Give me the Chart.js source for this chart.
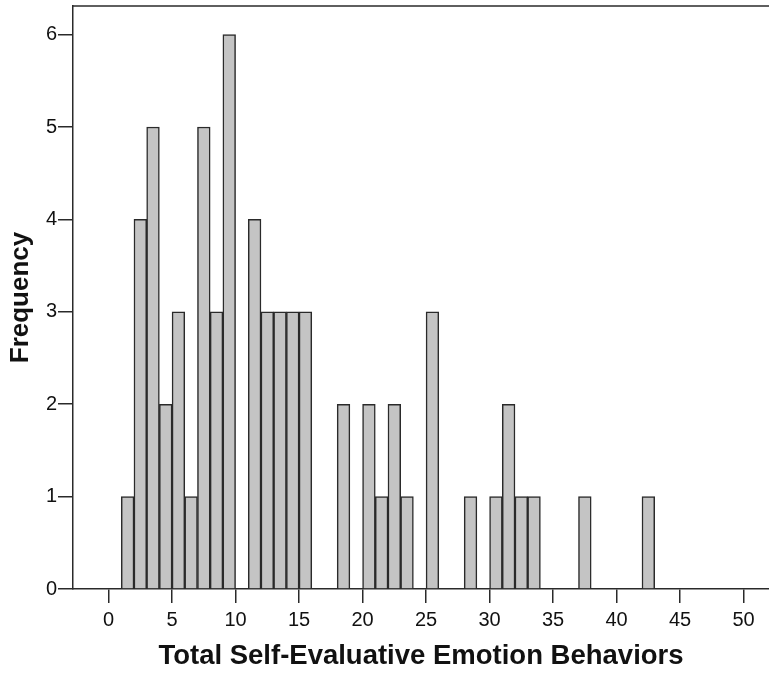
<!DOCTYPE html>
<html>
<head>
<meta charset="utf-8">
<script src="https://cdn.jsdelivr.net/npm/chart.js@4"></script>
<style>
  html, body { margin: 0; padding: 0; background: #fff; }
  canvas { display: block; }
</style>
</head>
<body>
<canvas id="histo" width="769" height="677"></canvas>
<script>
// lower edge of each non-empty bin (bins are 1 unit wide)
const binStarts = [1, 2, 3, 4, 5, 6, 7, 8, 9, 11, 12, 13, 14, 15, 18, 20, 21, 22, 23, 25, 28, 30, 31, 32, 33, 37, 42];
const frequencies = [1, 4, 5, 2, 3, 1, 5, 3, 6, 4, 3, 3, 3, 3, 2, 2, 1, 2, 1, 3, 1, 1, 2, 1, 1, 1, 1];
const xTicks = [0, 5, 10, 15, 20, 25, 30, 35, 40, 45, 50];
const yTicks = [0, 1, 2, 3, 4, 5, 6];

const ink = '#2a2a2a';
const fontFam = "Arial, 'Liberation Sans', sans-serif";

// top frame line of the plot box
const topLine = {
  id: 'topLine',
  afterDraw(chart) {
    const { ctx, chartArea } = chart;
    ctx.save();
    ctx.strokeStyle = ink;
    ctx.lineWidth = 1.5;
    ctx.beginPath();
    ctx.moveTo(chartArea.left, chartArea.top);
    ctx.lineTo(chartArea.right, chartArea.top);
    ctx.stroke();
    ctx.restore();
  }
};

new Chart(document.getElementById('histo'), {
  type: 'bar',
  data: {
    datasets: [{
      data: binStarts.map((b, i) => ({ x: b + 0.5, y: frequencies[i] })),
      backgroundColor: '#c4c4c4',
      borderColor: ink,
      borderWidth: 1.5,
      barPercentage: 1,
      categoryPercentage: 1,
      grouped: false
    }]
  },
  options: {
    responsive: false,
    animation: false,
    events: [],
    layout: { padding: { top: 6, right: 0, left: 0, bottom: 0 } },
    plugins: { legend: { display: false }, tooltip: { enabled: false } },
    scales: {
      x: {
        type: 'linear',
        min: -2.8,
        max: 52,
        offset: false,
        afterFit: s => { s.height = 88; },
        afterBuildTicks: s => { s.ticks = xTicks.map(v => ({ value: v })); },
        grid: { offset: false, drawOnChartArea: false, drawTicks: true, tickLength: 14, color: ink, lineWidth: 1.5 },
        border: { display: true, color: ink, width: 1.5 },
        ticks: { includeBounds: false, padding: 5, color: '#111', font: { family: fontFam, size: 20 }, maxRotation: 0 },
        title: {
          display: true,
          text: 'Total Self-Evaluative Emotion Behaviors',
          color: '#111',
          padding: { top: 4, bottom: 4 },
          font: { family: fontFam, size: 27.5, weight: 'bold' }
        }
      },
      y: {
        min: 0,
        max: 6.31,
        afterFit: s => { s.width = 73; s.paddingTop = 0; s.paddingBottom = 0; },
        afterBuildTicks: s => { s.ticks = yTicks.map(v => ({ value: v })); },
        grid: { drawOnChartArea: false, drawTicks: true, tickLength: 15, color: ink, lineWidth: 1.5 },
        border: { display: true, color: ink, width: 1.5 },
        ticks: { includeBounds: false, padding: 1, color: '#111', font: { family: fontFam, size: 20 } },
        title: {
          display: true,
          text: 'Frequency',
          color: '#111',
          padding: { top: 5, bottom: 4 },
          font: { family: fontFam, size: 26, weight: 'bold' }
        }
      }
    }
  },
  plugins: [topLine]
});
</script>
</body>
</html>
